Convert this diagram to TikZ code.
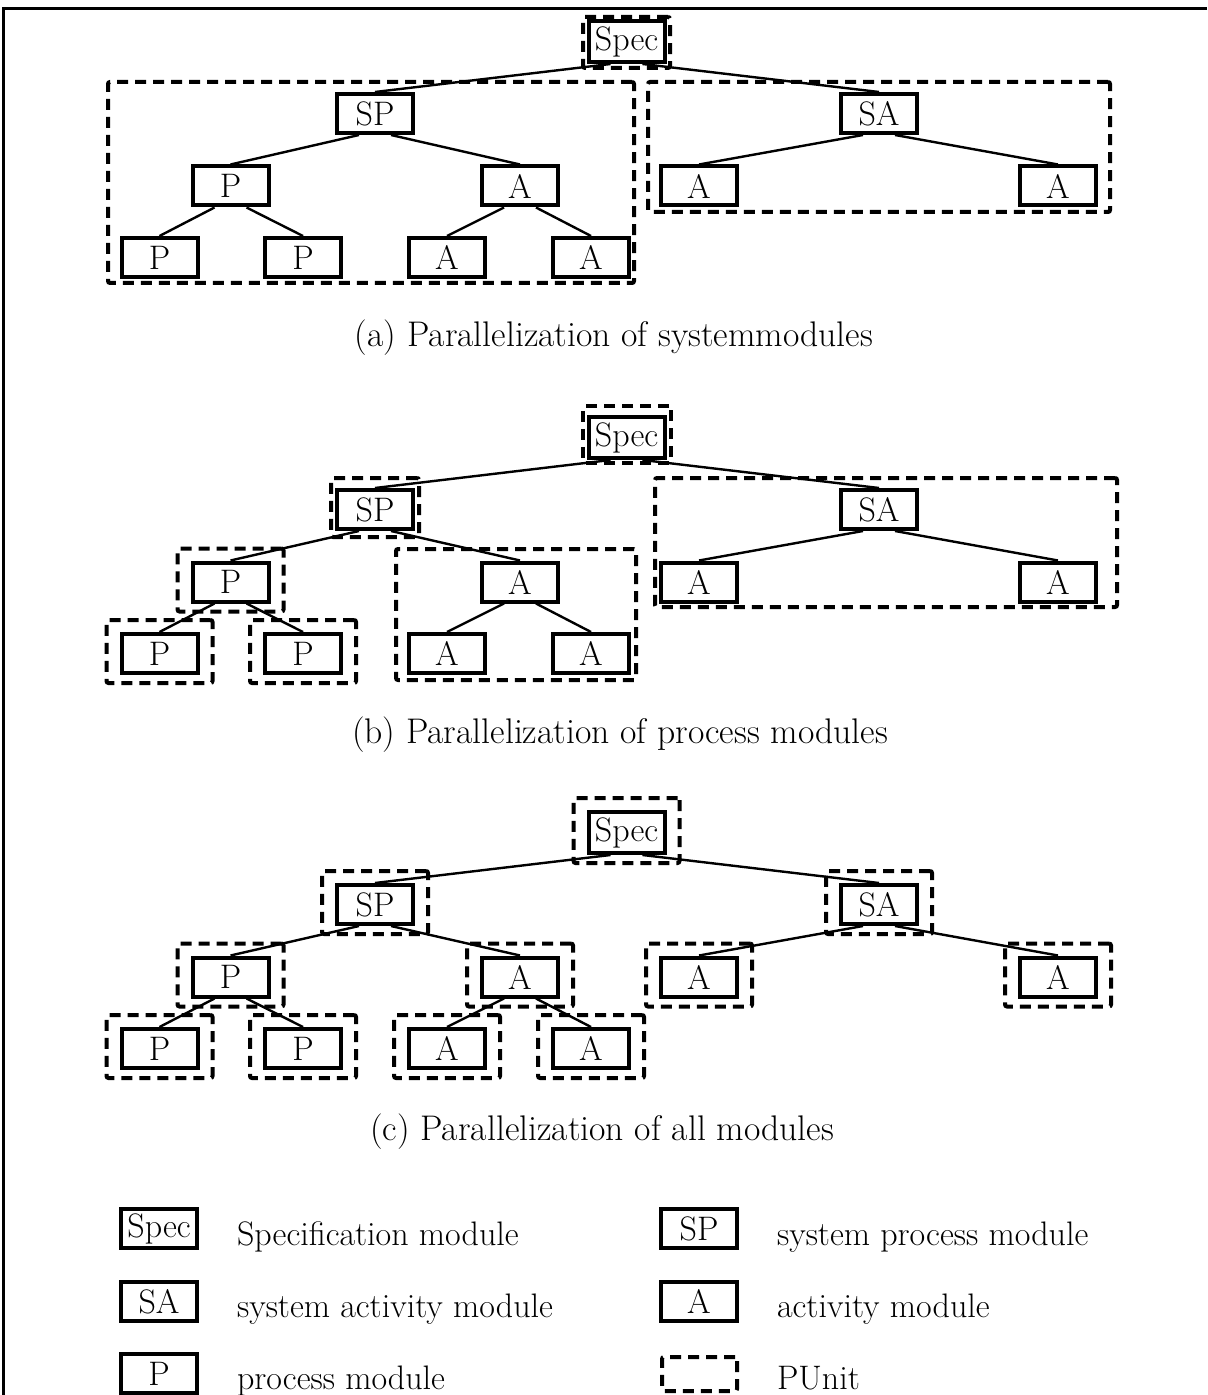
\documentclass[tikz,border=0pt]{standalone}
\usepackage{fontspec}
\usetikzlibrary{fit,calc}

\begin{document}
\begin{tikzpicture}[
    x=0.5pt, y=-0.5pt,
    module/.style={rectangle, draw=black, line width=2pt, minimum width=38pt,
                minimum height=19.5pt, inner sep=0pt, font=\fontsize{17}{20}\selectfont},
    punit/.style={rectangle, draw=black, line width=2pt,
                dash pattern=on 5.5pt off 3.5pt, rounded corners=1pt, inner sep=0pt},
    unitfit/.style={punit, inner xsep=6.5pt, inner ysep=5pt, yshift=1pt},
    link/.style={line width=1.2pt},
    caption/.style={font=\fontsize{17.8}{21}\selectfont},
    legend/.style={anchor=base west, font=\fontsize{17}{20}\selectfont}
]
\useasboundingbox (0,0) rectangle (1207,1395);

% Frame
\draw[line width=1.5pt] (3,1395) |- (1207,9);

% Module trees (a), (b), (c)
\foreach \t/\dy in {a/0, b/396, c/791} {
  \node[module, minimum height=20.5pt] (\t-spec) at (626.5,41.5+\dy) {Spec};
  \node[module] (\t-sp) at (375,113.5+\dy) {SP};
  \node[module] (\t-sa) at (879,113.5+\dy) {SA};
  \node[module] (\t-p) at (230.5,186+\dy) {P};
  \node[module] (\t-a) at (520,186+\dy) {A};
  \node[module] (\t-sal) at (699,186+\dy) {A};
  \node[module] (\t-sar) at (1058,186+\dy) {A};
  \node[module] (\t-pl) at (159.5,257.5+\dy) {P};
  \node[module] (\t-pr) at (303,257.5+\dy) {P};
  \node[module] (\t-al) at (447,257.5+\dy) {A};
  \node[module] (\t-ar) at (591,257.5+\dy) {A};

  \draw[link] ([xshift=-8pt]\t-spec.south) -- (\t-sp.north);
  \draw[link] ([xshift=8pt]\t-spec.south) -- (\t-sa.north);
  \draw[link] ([xshift=-8pt]\t-sp.south) -- (\t-p.north);
  \draw[link] ([xshift=8pt]\t-sp.south) -- (\t-a.north);
  \draw[link] ([xshift=-8pt]\t-sa.south) -- (\t-sal.north);
  \draw[link] ([xshift=8pt]\t-sa.south) -- (\t-sar.north);
  \draw[link] ([xshift=-8pt]\t-p.south) -- (\t-pl.north);
  \draw[link] ([xshift=8pt]\t-p.south) -- (\t-pr.north);
  \draw[link] ([xshift=-8pt]\t-a.south) -- (\t-al.north);
  \draw[link] ([xshift=8pt]\t-a.south) -- (\t-ar.north);
}

% PUnits (a)
\node[punit, fit={(583,17) (670,68)}] (a-u-spec) {};
\node[punit, fit={(108,82) (634,283)}] (a-u-sp) {};
\node[punit, fit={(648,82) (1110,212)}] (a-u-sa) {};

% PUnits (b)
\node[punit, fit={(583,406) (671,463)}] (b-u-spec) {};
\node[punit, fit={(331,478) (419,537)}] (b-u-sp) {};
\node[unitfit, fit=(b-p)] (b-u-p) {};
\node[unitfit, fit=(b-pl)] (b-u-pl) {};
\node[unitfit, fit=(b-pr)] (b-u-pr) {};
\node[punit, fit={(396,549) (636,680)}] (b-u-a) {};
\node[punit, fit={(655,478) (1117,607)}] (b-u-sa) {};

% PUnits (c)
\foreach \n in {spec,sp,sa,p,a,sal,sar,pl,pr,al,ar}
  \node[unitfit, fit=(c-\n)] (c-u-\n) {};

% Captions
\node[caption] (cap-a) at (614,338) {(a) Parallelization of systemmodules};
\node[caption] (cap-b) at (620,735) {(b) Parallelization of process modules};
\node[caption] (cap-c) at (602,1132) {(c) Parallelization of all modules};

% Legend
\node[module] (key-spec) at (159,1228.5) {Spec};
\node[legend] (txt-spec) at (230,1245) {Specification module};
\node[module] (key-sp) at (699,1228.5) {SP};
\node[legend] (txt-sp) at (770,1245) {system process module};
\node[module] (key-sa) at (159,1301.5) {SA};
\node[legend] (txt-sa) at (230,1317) {system activity module};
\node[module] (key-a) at (699,1301.5) {A};
\node[legend] (txt-a) at (770,1317) {activity module};
\node[module] (key-p) at (159,1373.5) {P};
\node[legend] (txt-p) at (230,1389) {process module};
\node[punit, fit={(662,1357) (737,1391)}] (key-pu) {};
\node[legend] (txt-pu) at (770,1389) {PUnit};

\end{tikzpicture}
\end{document}
